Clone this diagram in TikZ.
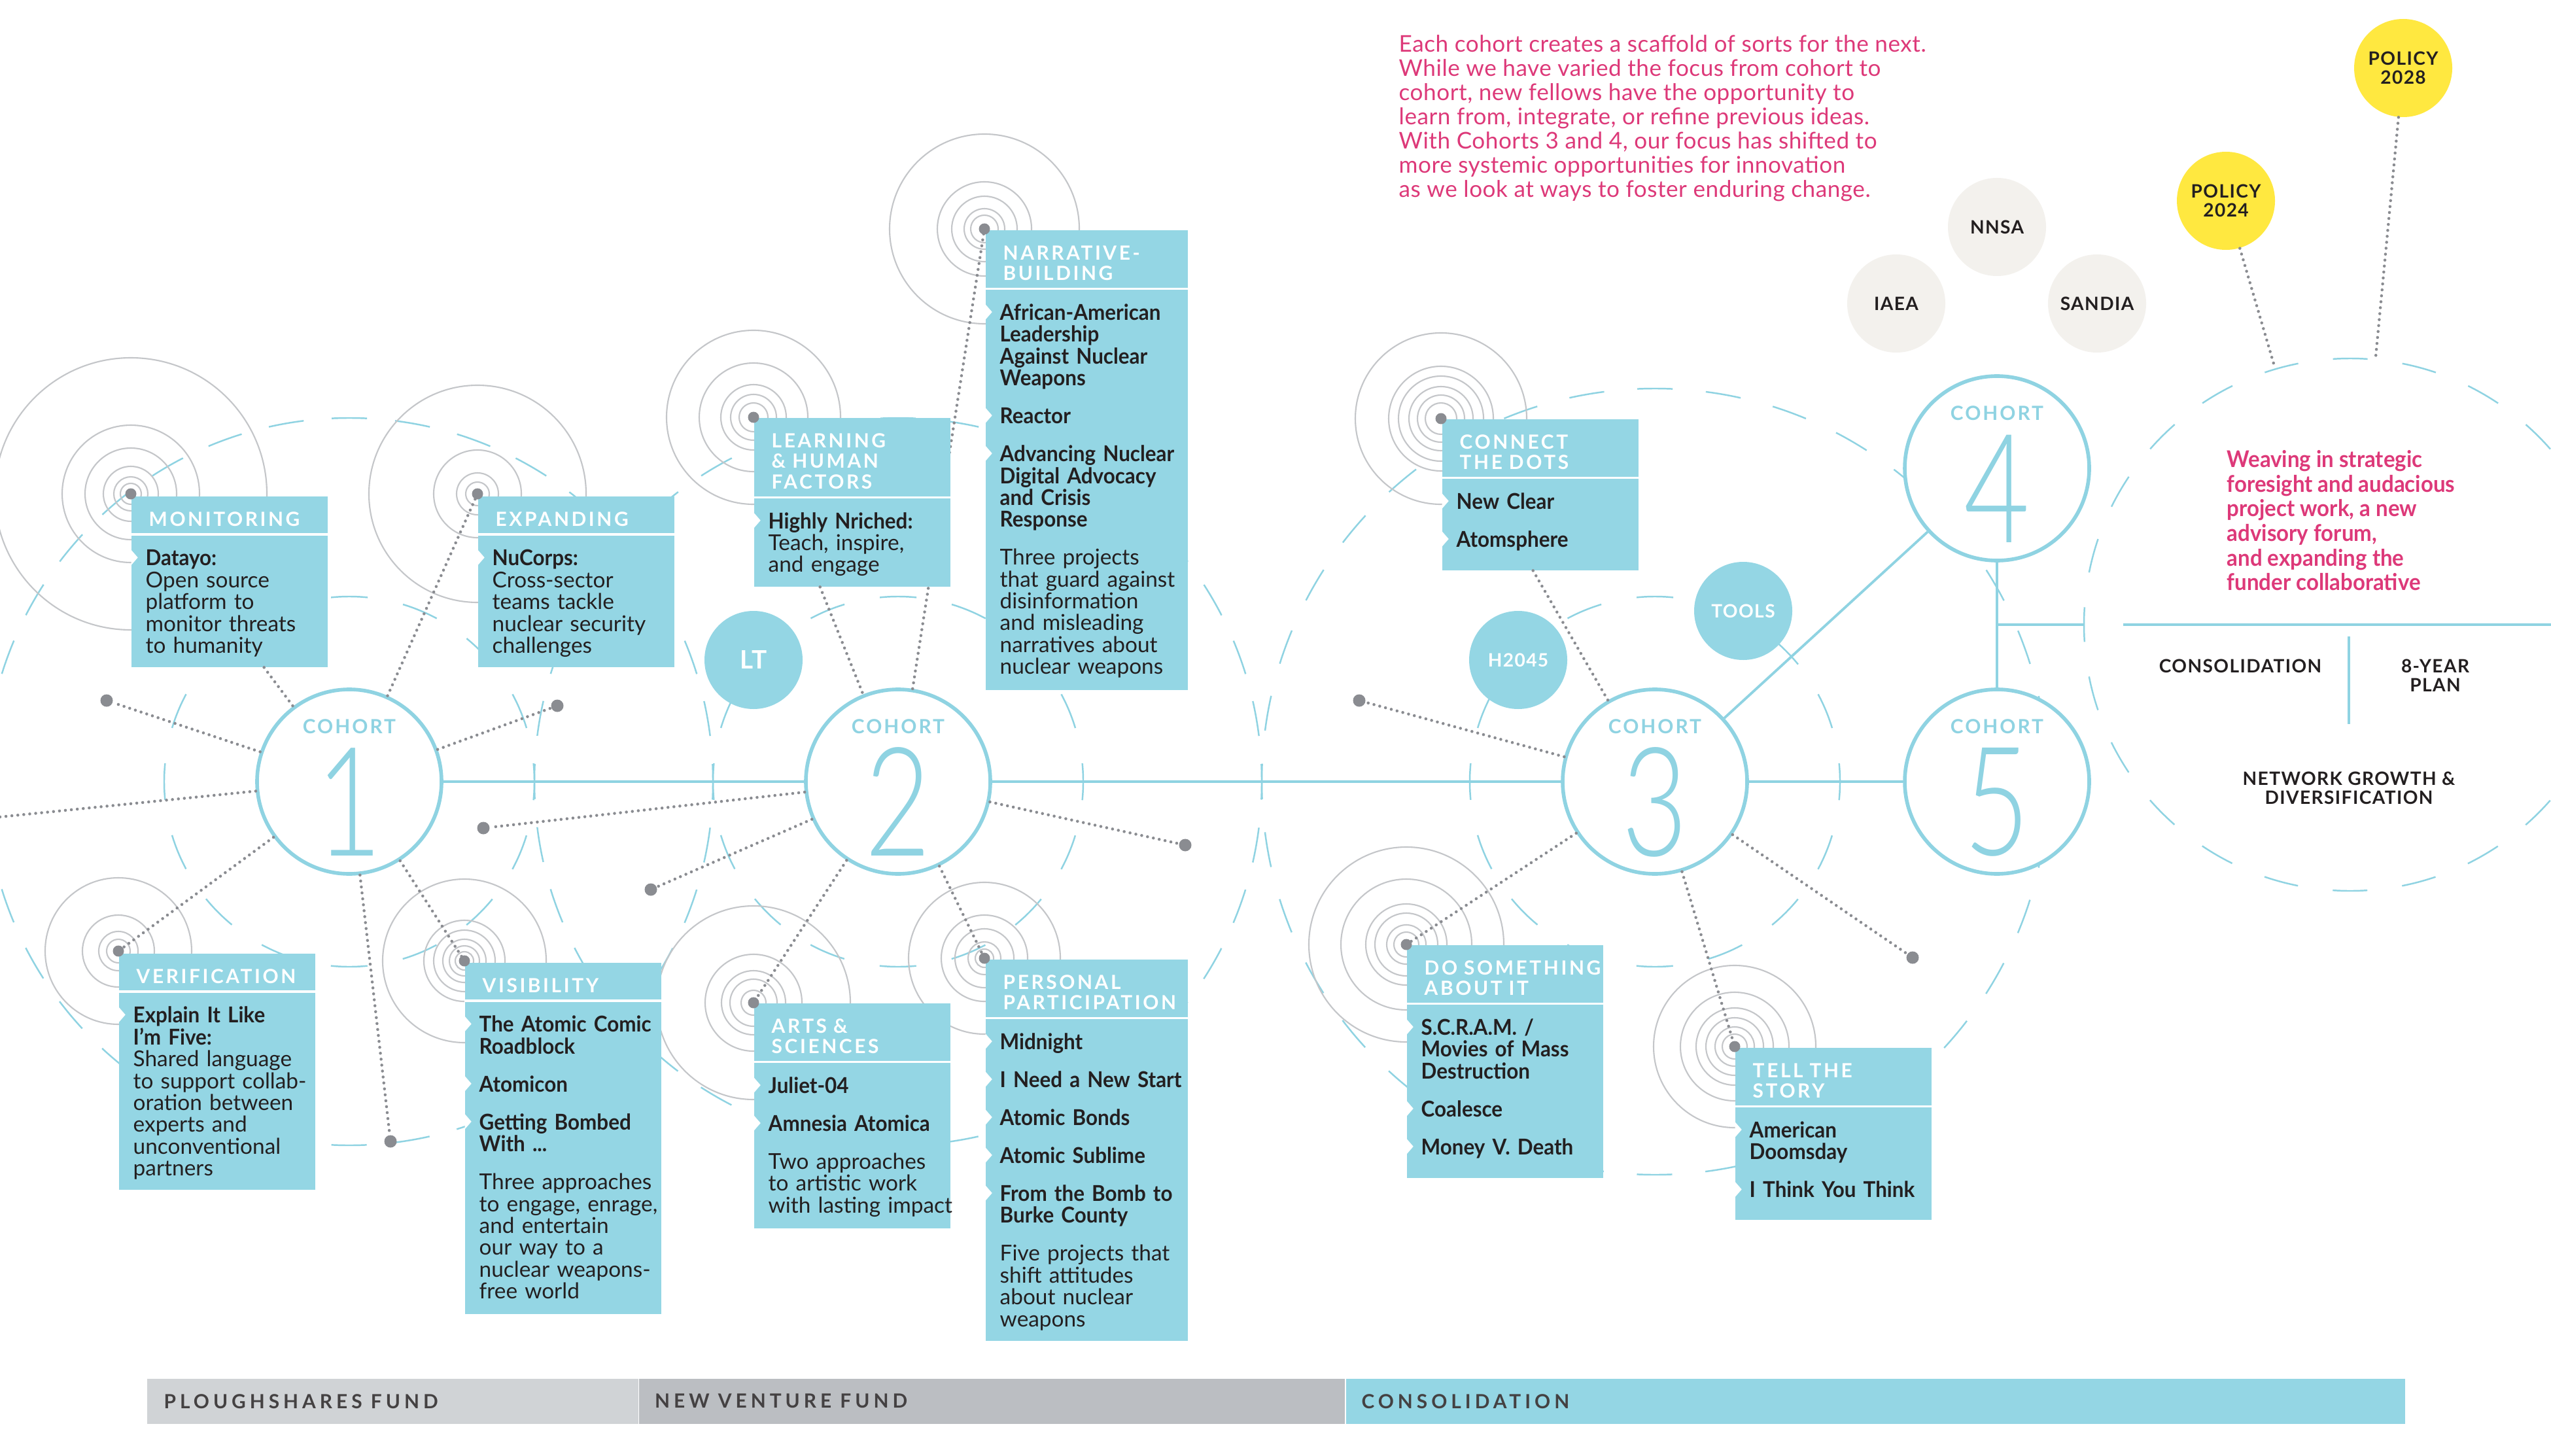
\documentclass[tikz,border=0pt]{standalone}
\usepackage{fontspec}
\usepackage{graphicx}
\setmainfont{Lato}[BoldFeatures={FakeStretch=0.94}]
\newfontfamily\hdrfont[LetterSpace=12]{Lato}
\newfontfamily\cohfont[LetterSpace=10]{Lato}
\newfontfamily\capfont[LetterSpace=5]{Lato}
\newfontfamily\barfont[LetterSpace=20]{Lato}
\newfontfamily\notefont[LetterSpace=1.5]{Lato}
\IfFontExistsTF{Lato Light}{\newfontfamily\numfont{Lato Light}}{\newfontfamily\numfont{Lato}}
\usetikzlibrary{positioning}
\hyphenpenalty=10000

% white notch on the left edge of a card, one per project
\newcommand\notch{\leavevmode\llap{\tikz[baseline=0pt]\fill[white] (0,0.01) -- (0.1,0.125) -- (0,0.24) -- cycle;\hspace{0.12cm}}}

\begin{document}
\begin{tikzpicture}[
    link/.style={draw=cline, line width=1.1pt},
    dots/.style={draw=dotgray, line width=1.3pt, line cap=round, dash pattern=on 0pt off 2.6pt},
    enddot/.style={circle, fill=dotgray, minimum size=0.19cm, inner sep=0pt},
    ring/.style={draw=ringgray, line width=0.6pt},
    ripA/.style={draw=cline, line width=0.7pt, dash pattern=on 0.56cm off 0.5513cm, dash phase=0.28cm},
    ripB/.style={draw=cline, line width=0.7pt, dash pattern=on 0.54cm off 0.4304cm, dash phase=0.27cm},
    ripC/.style={draw=cline, line width=0.7pt, dash pattern=on 0.54cm off 0.5089cm, dash phase=0.27cm},
    ripD/.style={draw=cline, line width=0.7pt, dash pattern=on 0.53cm off 0.5355cm, dash phase=0.265cm},
    cohort/.style={circle, draw=cline, line width=1.6pt, fill=white, minimum size=2.82cm, inner sep=0pt},
    cohlbl/.style={inner sep=0pt, text=cline, font=\cohfont\bfseries\fontsize{8.5}{9}\selectfont},
    cohnum/.style={inner sep=0pt, text=cline, font=\numfont\fontsize{66}{66}\selectfont},
    card/.style={anchor=north west, fill=cfill, inner sep=0pt, minimum width=3cm},
    hdr/.style={anchor=north west, inner xsep=0.27cm, inner ysep=0.12cm, text width=2.9cm, align=left, text=white, font=\hdrfont\bfseries\fontsize{8.5}{9}\selectfont, execute at begin node={\rule{0pt}{9.5pt}}},
    cardtext/.style={anchor=north west, inner xsep=0.22cm, inner ysep=0.12cm, text width=3.3cm, align=left, text=ink, font=\fontsize{9.5}{9.5}\selectfont, execute at begin node={\rule{0pt}{10pt}}},
    divider/.style={draw=white, line width=0.9pt},
    chip/.style={circle, minimum size=1.5cm, inner sep=0pt, align=center, font=\capfont\bfseries\fontsize{8}{8.3}\selectfont},
    plain/.style={inner sep=0pt, align=center, text=ink, font=\capfont\bfseries\fontsize{8}{8.3}\selectfont},
    fund/.style={anchor=north west, minimum height=0.69cm, inner sep=0pt},
    fundlbl/.style={inner sep=0pt, text=ink!85, font=\barfont\bfseries\fontsize{8.5}{9}\selectfont}
]
    % Colours
    \definecolor{cline}{RGB}{143,211,226}
    \definecolor{cfill}{RGB}{148,214,228}
    \definecolor{ringgray}{RGB}{196,198,201}
    \definecolor{dotgray}{RGB}{138,140,145}
    \definecolor{ink}{RGB}{35,31,32}
    \definecolor{pink}{RGB}{221,57,121}
    \definecolor{sun}{RGB}{255,232,64}
    \definecolor{beige}{RGB}{243,241,237}
    \definecolor{fundA}{RGB}{208,211,214}
    \definecolor{fundB}{RGB}{187,190,194}

    % Canvas
    \useasboundingbox (0,0) rectangle (39,-22.26);
    \fill[white] (0,0) rectangle (39,-22.26);
    \clip (0,0) rectangle (39,-22.26);

    % Cohort centres and project targets
    \coordinate (o1) at (5.34,-11.95);
    \coordinate (o2) at (13.73,-11.95);
    \coordinate (o3) at (25.30,-11.95);
    \coordinate (tMon) at (2.00,-7.55);
    \coordinate (tExp) at (7.30,-7.55);
    \coordinate (tVer) at (1.81,-14.54);
    \coordinate (tVis) at (7.10,-14.69);
    \coordinate (tLrn) at (11.52,-6.38);
    \coordinate (tNar) at (15.05,-3.50);
    \coordinate (tArt) at (11.52,-15.33);
    \coordinate (tPer) at (15.05,-14.65);
    \coordinate (tCon) at (22.03,-6.40);
    \coordinate (tDo) at (21.50,-14.44);
    \coordinate (tTel) at (26.52,-16.00);

    % Dashed ripples
    \foreach \o in {o1,o2,o3} \draw[ripA] (\o) circle (2.83);
    \draw[ripB] (o1) circle (5.56);
    \draw[ripB] (o2) circle (5.56);
    \draw[ripC] (o3) circle (6.01);
    \node[circle, ripD, minimum size=8.14cm, inner sep=0pt] (rc) at (35.93,-9.55) {};

    % Target rings
    \foreach \t/\rr in {tMon/{2.08,1.05,0.70,0.42,0.26,0.16}, tExp/{1.66,0.67,0.32,0.18},
                        tVer/{1.12,0.55,0.30,0.18}, tVis/{1.25,0.62,0.47,0.33,0.23,0.14},
                        tLrn/{1.33,0.83,0.50,0.35,0.22}, tNar/{1.45,0.72,0.50,0.31,0.21},
                        tArt/{1.48,0.74,0.49,0.36,0.19}, tPer/{1.16,0.66,0.45,0.25,0.14},
                        tCon/{1.31,0.80,0.65,0.49,0.36,0.24}, tDo/{1.49,1.00,0.62,0.48,0.30,0.19},
                        tTel/{1.24,0.83,0.59,0.44,0.30,0.19}}
        \foreach \r in \rr \draw[ring] (\t) circle (\r);

    % Cohorts
    \node[cohort] (c1) at (o1) {};
    \node[cohort] (c2) at (o2) {};
    \node[cohort] (c3) at (o3) {};
    \node[cohort] (c4) at (30.53,-7.16) {};
    \node[cohort] (c5) at (30.53,-11.95) {};
    \foreach \c/\n in {c1/1,c2/2,c3/3,c4/4,c5/5} {
        \node[cohlbl] at ([yshift=0.84cm]\c.center) {COHORT};
        \node[cohnum] at ([yshift=-0.31cm]\c.center) {\scalebox{0.75}[1]{\n}};
    }

    % Loose ends
    \node[enddot] (d1) at (1.63,-10.71) {};
    \node[enddot] (d2) at (8.52,-10.79) {};
    \node[enddot] (d3) at (5.97,-17.45) {};
    \node[enddot] (d4) at (7.39,-12.66) {};
    \node[enddot] (d5) at (9.95,-13.60) {};
    \node[enddot] (d6) at (18.12,-12.92) {};
    \node[enddot] (d7) at (20.78,-10.71) {};
    \node[enddot] (d8) at (29.24,-14.64) {};
    \coordinate (w1) at (-0.2,-12.51);
    \coordinate (rEnd) at (39.2,-9.55);

    % Timeline
    \draw[link] (c1) -- (c2);
    \draw[link] (c2) -- (c3);
    \draw[link] (c3) -- (c5);
    \draw[link] (c3) -- (c4);
    \draw[link] (c4) -- (c5);
    \draw[link] (c4 |- rc.west) -- (rc.west);
    \draw[link] ([xshift=0.61cm]rc.west) -- (rEnd);

    % Dotted spokes
    \foreach \a/\b in {c1/tExp, c1/d1, c1/d2, c1/w1, c1/tVer, c1/d3, c1/tVis,
                       c2/tNar, c2/d4, c2/d5, c2/d6, c2/tArt, c2/tPer,
                       c3/d7, c3/tDo, c3/tTel, c3/d8}
        \draw[dots] (\a) -- (\b);

    % Chips
    \node[chip, fill=cfill, text=white, font=\capfont\bfseries\fontsize{11}{11}\selectfont] (lt) at (11.52,-10.09) {LT};
    \node[chip, fill=cfill, text=white] (h2045) at (23.21,-10.09) {H2045};
    \node[chip, fill=cfill, text=white] (tools) at (26.65,-9.34) {TOOLS};
    \node[chip, fill=beige, text=ink] (nnsa) at (30.53,-3.47) {NNSA};
    \node[chip, fill=beige, text=ink] (iaea) at (28.99,-4.64) {IAEA};
    \node[chip, fill=beige, text=ink] (sandia) at (32.06,-4.64) {SANDIA};
    \node[chip, fill=sun, text=ink] (p24) at (34.03,-3.07) {POLICY\\2024};
    \node[chip, fill=sun, text=ink] (p28) at (36.74,-1.04) {POLICY\\2028};
    \draw[dots] (p24) -- (rc);
    \draw[dots] (p28) -- (rc);

    % Cohort 1 cards
    \node[card, minimum height=2.61cm] (mon) at (2.00,-7.58) {};
    \node[hdr] (monh) at (mon.north west) {MONITORING};
    \draw[divider] (monh.south west) -- (monh.south -| mon.east);
    \node[cardtext] at (monh.south west) {\notch\textbf{Datayo:}\\Open source\\platform to\\monitor threats\\to humanity};

    \node[card, minimum height=2.61cm] (exp) at (7.30,-7.58) {};
    \node[hdr] (exph) at (exp.north west) {EXPANDING};
    \draw[divider] (exph.south west) -- (exph.south -| exp.east);
    \node[cardtext] at (exph.south west) {\notch\textbf{NuCorps:}\\Cross-sector\\teams tackle\\nuclear security\\challenges};

    \node[card, minimum height=3.61cm] (ver) at (1.81,-14.57) {};
    \node[hdr] (verh) at (ver.north west) {VERIFICATION};
    \draw[divider] (verh.south west) -- (verh.south -| ver.east);
    \node[cardtext] at (verh.south west) {\notch\textbf{Explain It Like}\\\textbf{I’m Five:}\\Shared language\\to support collab-\\oration between\\experts and\\unconventional\\partners};

    \node[card, minimum height=5.37cm] (vis) at (7.10,-14.71) {};
    \node[hdr] (vish) at (vis.north west) {VISIBILITY};
    \draw[divider] (vish.south west) -- (vish.south -| vis.east);
    \node[cardtext] at (vish.south west) {\notch\textbf{The Atomic Comic}\\\textbf{Roadblock}\\[7pt]\notch\textbf{Atomicon}\\[7pt]\notch\textbf{Getting Bombed}\\\textbf{With ...}\\[7pt]Three approaches\\to engage, enrage,\\and entertain\\our way to a\\nuclear weapons-\\free world};

    % Cohort 2 cards
    \node[card, minimum height=2.58cm] (lrn) at (11.52,-6.38) {};
    \node[hdr] (lrnh) at (lrn.north west) {LEARNING\\\& HUMAN\\FACTORS};
    \draw[divider] (lrnh.south west) -- (lrnh.south -| lrn.east);
    \node[cardtext] at (lrnh.south west) {\notch\textbf{Highly Nriched:}\\Teach, inspire,\\and engage};

    \node[card, minimum width=3.09cm, minimum height=7.03cm] (nar) at (15.06,-3.51) {};
    \node[hdr] (narh) at (nar.north west) {NARRATIVE-\\BUILDING};
    \draw[divider] (narh.south west) -- (narh.south -| nar.east);
    \node[cardtext] at (narh.south west) {\notch\textbf{African-American}\\\textbf{Leadership}\\\textbf{Against Nuclear}\\\textbf{Weapons}\\[7pt]\notch\textbf{Reactor}\\[7pt]\notch\textbf{Advancing Nuclear}\\\textbf{Digital Advocacy}\\\textbf{and Crisis}\\\textbf{Response}\\[7pt]Three projects\\that guard against\\disinformation\\and misleading\\narratives about\\nuclear weapons};

    \node[card, minimum height=3.44cm] (art) at (11.52,-15.33) {};
    \node[hdr] (arth) at (art.north west) {ARTS \&\\SCIENCES};
    \draw[divider] (arth.south west) -- (arth.south -| art.east);
    \node[cardtext] at (arth.south west) {\notch\textbf{Juliet-04}\\[7pt]\notch\textbf{Amnesia Atomica}\\[7pt]Two approaches\\to artistic work\\with lasting impact};

    \node[card, minimum width=3.09cm, minimum height=5.83cm] (per) at (15.06,-14.66) {};
    \node[hdr] (perh) at (per.north west) {PERSONAL\\PARTICIPATION};
    \draw[divider] (perh.south west) -- (perh.south -| per.east);
    \node[cardtext] at (perh.south west) {\notch\textbf{Midnight}\\[7pt]\notch\textbf{I Need a New Start}\\[7pt]\notch\textbf{Atomic Bonds}\\[7pt]\notch\textbf{Atomic Sublime}\\[7pt]\notch\textbf{From the Bomb to}\\\textbf{Burke County}\\[7pt]Five projects that\\shift attitudes\\about nuclear\\weapons};

    % Cohort 3 cards
    \node[card, minimum height=2.31cm] (con) at (22.04,-6.40) {};
    \node[hdr] (conh) at (con.north west) {CONNECT\\THE DOTS};
    \draw[divider] (conh.south west) -- (conh.south -| con.east);
    \node[cardtext] at (conh.south west) {\notch\textbf{New Clear}\\[7pt]\notch\textbf{Atomsphere}};

    \node[card, minimum height=3.56cm] (do) at (21.50,-14.44) {};
    \node[hdr] (doh) at (do.north west) {DO SOMETHING\\ABOUT IT};
    \draw[divider] (doh.south west) -- (doh.south -| do.east);
    \node[cardtext] at (doh.south west) {\notch\textbf{S.C.R.A.M. /}\\\textbf{Movies of Mass}\\\textbf{Destruction}\\[7pt]\notch\textbf{Coalesce}\\[7pt]\notch\textbf{Money V. Death}};

    \node[card, minimum height=2.63cm] (tel) at (26.52,-16.01) {};
    \node[hdr] (telh) at (tel.north west) {TELL THE\\STORY};
    \draw[divider] (telh.south west) -- (telh.south -| tel.east);
    \node[cardtext] at (telh.south west) {\notch\textbf{American}\\\textbf{Doomsday}\\[7pt]\notch\textbf{I Think You Think}};

    % Spokes from card bottoms
    \draw[dots] ([xshift=0.53cm]mon.south) -- (c1);
    \draw[dots] ([xshift=-0.49cm]lrn.south) -- (c2);
    \draw[dots] ([xshift=-0.11cm]con.south) -- (c3);

    % Target dots
    \foreach \t in {tMon,tExp,tVer,tVis,tLrn,tNar,tArt,tPer,tCon,tDo,tTel}
        \fill[dotgray] (\t) circle (0.085);

    % Notes
    \node[anchor=north west, inner sep=0pt, align=left, text=pink, font=\notefont\fontsize{10}{10.5}\selectfont] (note) at (21.38,-0.53)
        {Each cohort creates a scaffold of sorts for the next.\\While we have varied the focus from cohort to\\cohort, new fellows have the opportunity to\\learn from, integrate, or refine previous ideas.\\With Cohorts 3 and 4, our focus has shifted to\\more systemic opportunities for innovation\\as we look at ways to foster enduring change.};
    \node[anchor=north west, inner sep=0pt, align=left, text=pink, font=\bfseries\fontsize{10}{10.7}\selectfont] (weave) at ([shift={(-1.89,2.67)}]rc.center)
        {Weaving in strategic\\foresight and audacious\\project work, a new\\advisory forum,\\and expanding the\\funder collaborative};

    % Plan inside the right circle
    \node[plain] (consol) at ([shift={(-1.68,-0.63)}]rc.center) {CONSOLIDATION};
    \node[plain] (plan) at ([shift={(1.30,-0.78)}]rc.center) {8-YEAR\\PLAN};
    \node[plain] (growth) at ([shift={(-0.02,-2.50)}]rc.center) {NETWORK GROWTH \&\\DIVERSIFICATION};
    \draw[link] ([shift={(-0.02,-0.18)}]rc.center) -- ([shift={(-0.02,-1.52)}]rc.center);

    % Funding bar
    \node[fund, fill=fundA, minimum width=7.51cm] (pf) at (2.24,-21.07) {};
    \node[fund, fill=fundB, minimum width=10.79cm, right=0pt of pf] (nv) {};
    \node[fund, fill=cfill, minimum width=16.19cm, right=0pt of nv] (cs) {};
    \node[fundlbl, right=0.26cm of pf.west] {PLOUGHSHARES FUND};
    \node[fundlbl, right=0.24cm of nv.west] {NEW VENTURE FUND};
    \node[fundlbl, right=0.24cm of cs.west] {CONSOLIDATION};
\end{tikzpicture}
\end{document}
